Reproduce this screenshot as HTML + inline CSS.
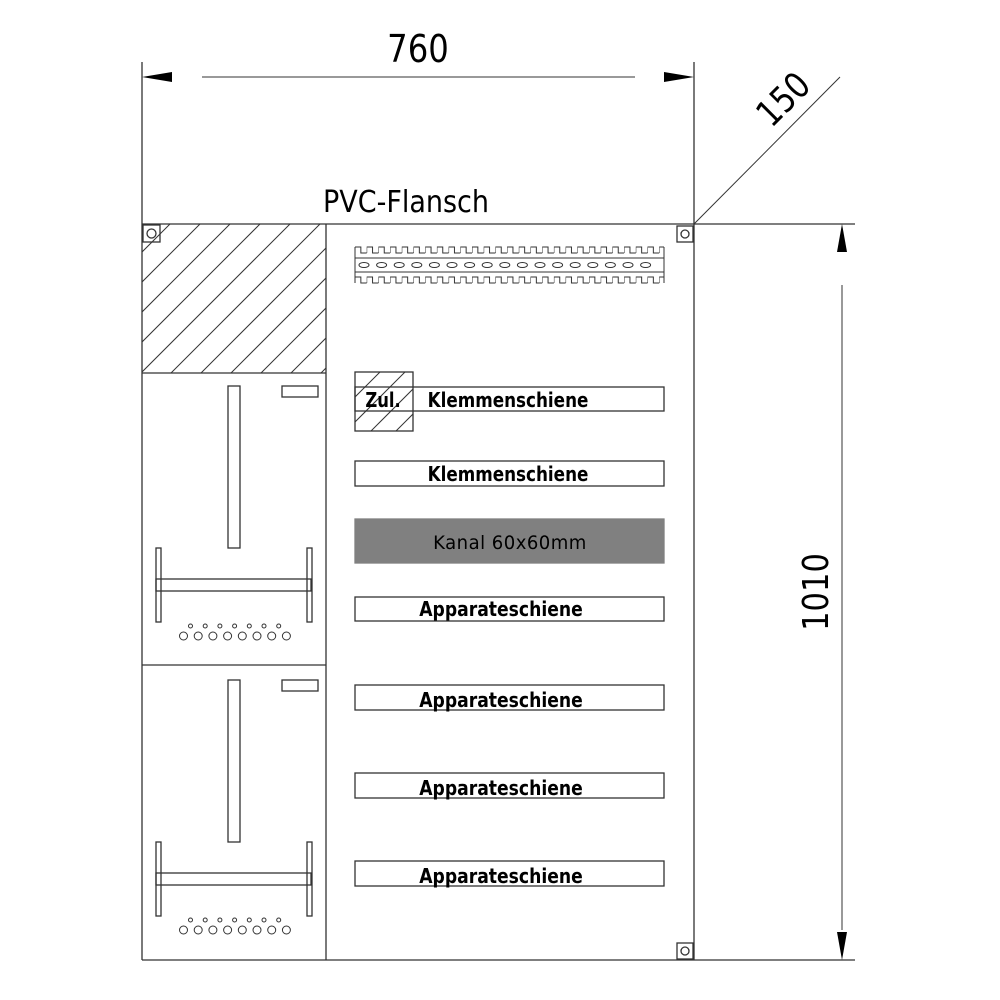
<!DOCTYPE html>
<html><head><meta charset="utf-8"><style>html,body{margin:0;padding:0;background:#fff}svg{display:block}text{font-family:"DejaVu Sans","Liberation Sans",sans-serif}</style></head><body>
<svg width="1000" height="1000" viewBox="0 0 1000 1000" xmlns="http://www.w3.org/2000/svg">
<defs>
<clipPath id="h1"><rect x="142" y="224" width="184" height="149"/></clipPath>
<clipPath id="h2"><rect x="355" y="372" width="58" height="59"/></clipPath>
<pattern id="teeth" x="355" y="245" width="11.7" height="10" patternUnits="userSpaceOnUse">
<path d="M0 8 V2 H5.85 V8 H11.7" fill="none" stroke="#333" stroke-width="1"/>
</pattern>
</defs>
<g stroke="#333" fill="none" stroke-width="1.3">
<line x1="142" y1="224" x2="855" y2="224"/>
<line x1="142" y1="960" x2="855" y2="960"/>
<line x1="142" y1="62" x2="142" y2="960"/>
<line x1="694" y1="62" x2="694" y2="960"/>
<line x1="326" y1="224" x2="326" y2="960"/>
<line x1="142" y1="373" x2="326" y2="373"/>
<line x1="142" y1="665" x2="326" y2="665"/>
<line x1="202" y1="77" x2="635" y2="77" stroke-width="1"/>
<line x1="842" y1="285" x2="842" y2="930" stroke-width="1"/>
<line x1="694" y1="224" x2="840" y2="77" stroke-width="1"/>
<rect x="143" y="225" width="17" height="17"/><circle cx="151.5" cy="233.5" r="4.5"/>
<rect x="677" y="226" width="16" height="16"/><circle cx="685" cy="234" r="4"/>
<rect x="677" y="943" width="16" height="16"/><circle cx="685" cy="951" r="4"/>
<g clip-path="url(#h1)" stroke-width="1">
<line x1="170" y1="224" x2="20" y2="374"/><line x1="200" y1="224" x2="50" y2="374"/><line x1="230" y1="224" x2="80" y2="374"/><line x1="260" y1="224" x2="110" y2="374"/><line x1="290" y1="224" x2="140" y2="374"/><line x1="320" y1="224" x2="170" y2="374"/><line x1="350" y1="224" x2="200" y2="374"/><line x1="380" y1="224" x2="230" y2="374"/><line x1="410" y1="224" x2="260" y2="374"/><line x1="440" y1="224" x2="290" y2="374"/><line x1="470" y1="224" x2="320" y2="374"/>
</g>
<rect x="355" y="245" width="309" height="10" fill="url(#teeth)" stroke="none"/>
<rect x="355" y="275" width="309" height="10" fill="url(#teeth)" stroke="none"/>
<g stroke-width="1">
<line x1="355" y1="247" x2="355" y2="283"/>
<line x1="664" y1="247" x2="664" y2="283"/>
<line x1="355" y1="258" x2="664" y2="258"/>
<line x1="355" y1="272" x2="664" y2="272"/>
<ellipse cx="364" cy="265" rx="5" ry="2.5"/><ellipse cx="381.6" cy="265" rx="5" ry="2.5"/><ellipse cx="399.2" cy="265" rx="5" ry="2.5"/><ellipse cx="416.8" cy="265" rx="5" ry="2.5"/><ellipse cx="434.4" cy="265" rx="5" ry="2.5"/><ellipse cx="452" cy="265" rx="5" ry="2.5"/><ellipse cx="469.6" cy="265" rx="5" ry="2.5"/><ellipse cx="487.2" cy="265" rx="5" ry="2.5"/><ellipse cx="504.8" cy="265" rx="5" ry="2.5"/><ellipse cx="522.4" cy="265" rx="5" ry="2.5"/><ellipse cx="540" cy="265" rx="5" ry="2.5"/><ellipse cx="557.6" cy="265" rx="5" ry="2.5"/><ellipse cx="575.2" cy="265" rx="5" ry="2.5"/><ellipse cx="592.8" cy="265" rx="5" ry="2.5"/><ellipse cx="610.4" cy="265" rx="5" ry="2.5"/><ellipse cx="628" cy="265" rx="5" ry="2.5"/><ellipse cx="645.6" cy="265" rx="5" ry="2.5"/>
</g>
<rect x="355" y="387" width="309" height="24"/>
<rect x="355" y="372" width="58" height="59"/>
<g clip-path="url(#h2)" stroke-width="1"><line x1="380" y1="372" x2="320" y2="432"/><line x1="405" y1="372" x2="345" y2="432"/><line x1="430" y1="372" x2="370" y2="432"/><line x1="455" y1="372" x2="395" y2="432"/></g>
<rect x="355" y="461" width="309" height="25"/>
<rect x="355" y="519" width="309" height="44" fill="#808080" stroke="#808080"/>
<rect x="355" y="597" width="309" height="24"/>
<rect x="355" y="685" width="309" height="25"/>
<rect x="355" y="773" width="309" height="25"/>
<rect x="355" y="861" width="309" height="25"/>
<g id="m">
<rect x="228" y="386" width="12" height="162"/>
<rect x="282" y="386" width="36" height="11"/>
<rect x="156" y="548" width="5" height="74"/>
<rect x="307" y="548" width="5" height="74"/>
<rect x="156" y="579" width="155" height="12"/>
<g stroke-width="1">
<circle cx="190.5" cy="626" r="2"/><circle cx="205.2" cy="626" r="2"/><circle cx="219.9" cy="626" r="2"/><circle cx="234.6" cy="626" r="2"/><circle cx="249.3" cy="626" r="2"/><circle cx="264" cy="626" r="2"/><circle cx="278.7" cy="626" r="2"/>
<circle cx="183.5" cy="636" r="4"/><circle cx="198.2" cy="636" r="4"/><circle cx="212.9" cy="636" r="4"/><circle cx="227.6" cy="636" r="4"/><circle cx="242.3" cy="636" r="4"/><circle cx="257" cy="636" r="4"/><circle cx="271.7" cy="636" r="4"/><circle cx="286.4" cy="636" r="4"/>
</g>
</g>
<use href="#m" transform="translate(0,294)"/>
</g>
<g fill="#000">
<polygon points="142,77 172,72 172,82"/>
<polygon points="694,77 664,72 664,82"/>
<polygon points="842,224 837,252 847,252"/>
<polygon points="842,960 837,932 847,932"/>
</g>
<g fill="#000">
<text x="418" y="62" font-size="38" text-anchor="middle" transform="translate(418,0) scale(0.85,1) translate(-418,0)">760</text>
<text x="406" y="212" font-size="30" text-anchor="middle" transform="translate(406,0) scale(0.9,1) translate(-406,0)">PVC-Flansch</text>
<text transform="translate(792,108) rotate(-45) scale(0.85,1)" font-size="36" text-anchor="middle">150</text>
<text transform="translate(828,592) rotate(-90) scale(0.85,1)" font-size="36" text-anchor="middle">1010</text>
<g font-size="20" font-weight="bold" text-anchor="middle">
<text transform="translate(383,407) scale(0.82,1)">Zul.</text>
<text transform="translate(508,407) scale(0.84,1)">Klemmenschiene</text>
<text transform="translate(508,481) scale(0.84,1)">Klemmenschiene</text>
<text transform="translate(510,549) scale(0.95,1)" font-weight="normal" font-size="19" letter-spacing="0.5">Kanal  60x60mm</text>
<text transform="translate(501,616) scale(0.86,1)">Apparateschiene</text>
<text transform="translate(501,707) scale(0.86,1)">Apparateschiene</text>
<text transform="translate(501,795) scale(0.86,1)">Apparateschiene</text>
<text transform="translate(501,883) scale(0.86,1)">Apparateschiene</text>
</g>
</g>
</svg>
</body></html>
